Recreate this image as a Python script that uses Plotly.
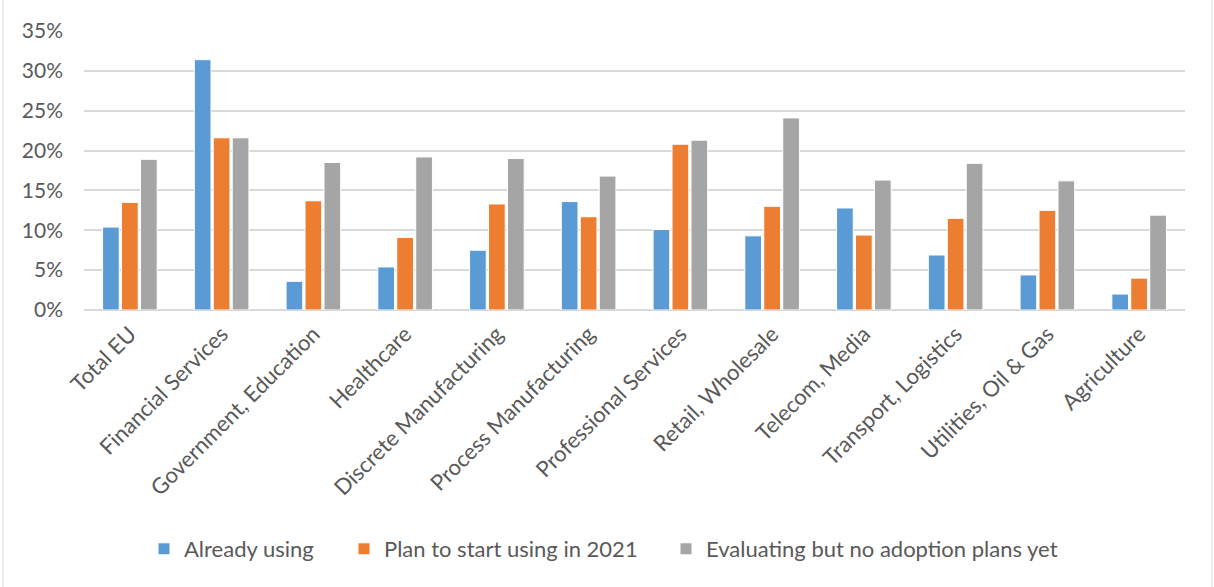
import plotly.graph_objects as go

categories = ["Total EU", "Financial Services", "Government, Education", "Healthcare",
              "Discrete Manufacturing", "Process Manufacturing", "Professional Services",
              "Retail, Wholesale", "Telecom, Media", "Transport, Logistics",
              "Utilities, Oil & Gas", "Agriculture"]
already_using = [0.104, 0.314, 0.036, 0.054, 0.075, 0.136, 0.101, 0.093, 0.128, 0.069, 0.044, 0.020]
plan_2021 = [0.135, 0.216, 0.137, 0.091, 0.133, 0.117, 0.208, 0.130, 0.094, 0.115, 0.125, 0.040]
evaluating = [0.189, 0.216, 0.185, 0.192, 0.190, 0.168, 0.213, 0.241, 0.163, 0.184, 0.162, 0.119]
series_names = ["Already using", "Plan to start using in 2021", "Evaluating but no adoption plans yet"]
colors = ["#5B9BD5", "#ED7D31", "#A5A5A5"]
y_ticks = [0, 0.05, 0.10, 0.15, 0.20, 0.25, 0.30, 0.35]

W, H = 1214, 587
ml, mr, mt, mb = 84, 29, 31, 277
pw, ph = W - ml - mr, H - mt - mb

legend_ids = ["legend", "legend2", "legend3"]
legend_px = [144, 344, 666]  # left edge of each legend box, in pixels

fig = go.Figure()
for name, vals, col, lg in zip(series_names, [already_using, plan_2021, evaluating], colors, legend_ids):
    fig.add_trace(go.Bar(x=categories, y=vals, name=name, marker_color=col,
                         marker_line_color="white", marker_line_width=1, legend=lg))

font = "Lato"
leg_y = (310 - 549) / ph
legend_common = dict(orientation="h", y=leg_y, yanchor="middle", xanchor="left",
                     font=dict(size=22, color="#595959"), itemwidth=30,
                     bgcolor="rgba(0,0,0,0)")
fig.update_layout(
    width=W, height=H,
    margin=dict(l=ml, r=mr, t=mt, b=mb, pad=0),
    paper_bgcolor="white", plot_bgcolor="white",
    barmode="group", bargap=0.38, bargroupgap=0.12,
    font=dict(family=font, size=22, color="#595959"),
    legend=dict(x=(legend_px[0] - ml) / pw, **legend_common),
    legend2=dict(x=(legend_px[1] - ml) / pw, **legend_common),
    legend3=dict(x=(legend_px[2] - ml) / pw, **legend_common),
    showlegend=True,
)
fig.update_yaxes(range=[0, 0.35], tickvals=y_ticks, tickformat=".0%",
                 tickfont=dict(size=21),
                 showgrid=True, gridcolor="#d9d9d9", gridwidth=1.5,
                 zeroline=True, zerolinecolor="#d9d9d9", zerolinewidth=1.5,
                 showline=False, ticks="", ticklabelstandoff=20, fixedrange=True)
fig.update_xaxes(tickangle=-45, tickfont=dict(size=22), showline=False, showgrid=False,
                 ticks="", ticklabelstandoff=6, fixedrange=True)

# outer chart border
x0 = (3 - ml) / pw
x1 = (1212 - ml) / pw
y1 = (H - mt - 2) / ph
y0 = (mb - 586) / ph
fig.add_shape(type="rect", xref="paper", yref="paper", x0=x0, x1=x1, y0=y0, y1=y1,
              line=dict(color="#d9d9d9", width=1), layer="below")

fig.write_html("out.html")
